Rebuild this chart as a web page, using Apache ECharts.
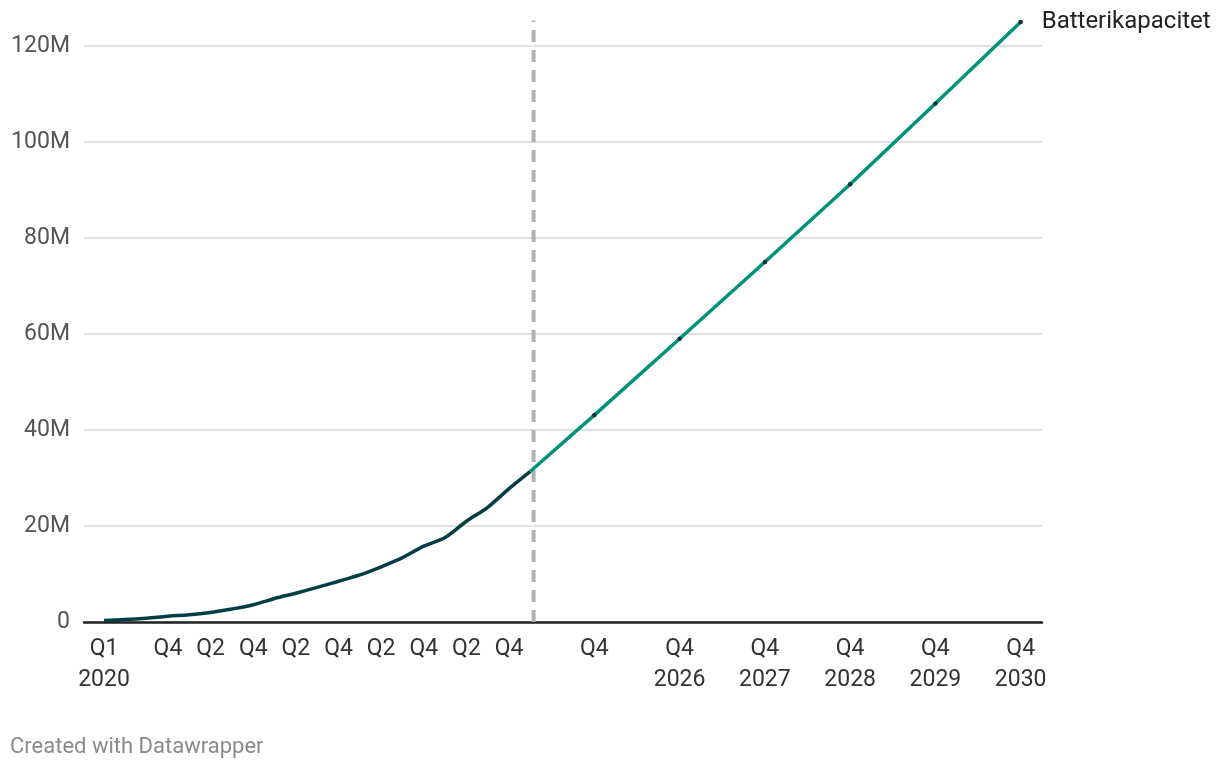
<!DOCTYPE html>
<html>
<head>
<meta charset="utf-8">
<script src="https://cdn.jsdelivr.net/npm/echarts@6/dist/echarts.min.js"></script>
<style>
html,body{margin:0;padding:0;background:#fff;}
#chart{width:1220px;height:768px;}
</style>
</head>
<body>
<div id="chart"></div>
<script>
// Quarter index: 0 = Q1 2020 ... 43 = Q4 2030
const histIdx = [0,1,2,3,4,5,6,7,8,9,10,11,12,13,14,15,16,17,18,19,20];
const histVals = [0.3,0.5,0.8,1.2,1.5,2.0,2.7,3.6,4.9,6.0,7.2,8.5,9.8,11.5,13.4,15.8,17.6,21.0,23.9,27.8,31.4]; // millions
const projIdx = [20,23,27,31,35,39,43];
const projVals = [31.4,43.1,59.0,75.0,91.2,108.0,125.0]; // millions
const xTickIdx = [0,3,5,7,9,11,13,15,17,19,23,27,31,35,39,43];
const xTickLabels = ['Q1\n2020','Q4','Q2','Q4','Q2','Q4','Q2','Q4','Q2','Q4','Q4','Q4\n2026','Q4\n2027','Q4\n2028','Q4\n2029','Q4\n2030'];
const yTicks = [0,20,40,60,80,100,120];
const dividerIdx = 20.15;
const dividerSpan = [0, 125.3];
const seriesName = 'Batterikapacitet';

const chart = echarts.init(document.getElementById('chart'), null, {renderer:'canvas'});
const font = 'Roboto, "Noto Sans", sans-serif';

const option = {
  animation: false,
  backgroundColor: '#fff',
  textStyle: {fontFamily: font},
  grid: {left: 84, right: 178, top: 46, bottom: 146, containLabel: false},
  xAxis: {
    type: 'value',
    min: -0.94,
    max: 44,
    axisLine: {show: true, onZero: true, lineStyle: {color: '#222', width: 2.5}},
    axisTick: {show: false},
    splitLine: {show: false},
    axisLabel: {
      customValues: xTickIdx,
      formatter: function (v) {
        const i = xTickIdx.indexOf(Math.round(v));
        return i >= 0 ? xTickLabels[i] : '';
      },
      color: '#333',
      fontSize: 23,
      fontFamily: font,
      lineHeight: 31,
      margin: 12
    }
  },
  yAxis: {
    type: 'value',
    min: yTicks[0],
    max: yTicks[yTicks.length - 1],
    interval: 20,
    axisLine: {show: false},
    axisTick: {show: false},
    splitLine: {show: true, lineStyle: {color: '#d6d6d6', width: 1.5}},
    axisLabel: {
      formatter: function (v) { return v === 0 ? '0' : v + 'M'; },
      color: '#555',
      fontSize: 23,
      fontFamily: font,
      margin: 14
    }
  },
  series: [
    {
      type: 'line',
      name: 'divider',
      data: dividerSpan.map(v => [dividerIdx, v]),
      showSymbol: false,
      symbol: 'none',
      silent: true,
      clip: false,
      lineStyle: {color: '#b0b0b0', width: 4, type: [12, 8]},
      z: 2
    },
    {
      type: 'line',
      name: seriesName + ' (historik)',
      data: histIdx.map((x, i) => [x, histVals[i]]),
      showSymbol: false,
      smooth: 0.35,
      clip: false,
      lineStyle: {color: '#053d47', width: 3.5},
      z: 3
    },
    {
      type: 'line',
      name: seriesName,
      data: projIdx.map((x, i) => ({value: [x, projVals[i]], symbolSize: i === 0 ? 0 : 4.5})),
      showSymbol: true,
      symbol: 'circle',
      itemStyle: {color: '#0b3236', borderWidth: 0},
      clip: false,
      lineStyle: {color: '#00917a', width: 3.5},
      z: 4,
      endLabel: {
        show: true,
        formatter: seriesName,
        color: '#222',
        fontSize: 24,
        fontFamily: font,
        distance: 21
      }
    }
  ],
  graphic: [
    {
      type: 'text',
      left: 10,
      top: 736,
      style: {text: 'Created with Datawrapper', fill: '#8a8a8a', font: '22px ' + font}
    }
  ]
};
chart.setOption(option);
</script>
</body>
</html>
